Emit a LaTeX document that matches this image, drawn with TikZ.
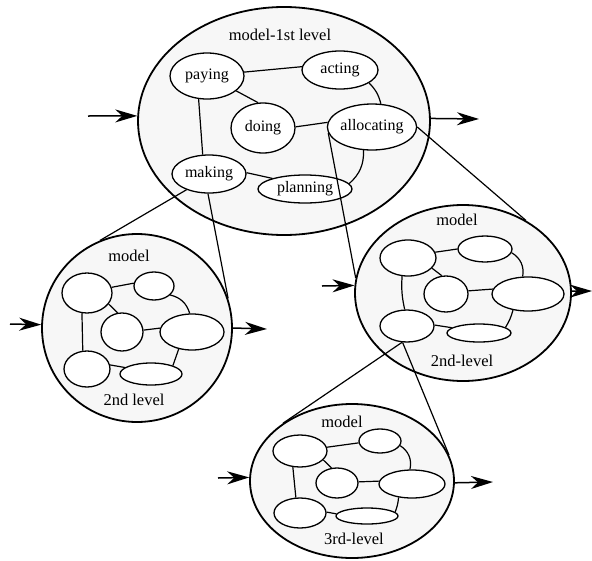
\documentclass[tikz,border=0pt]{standalone}
\usepackage{fontspec}
\setmainfont{Liberation Serif}
\usetikzlibrary{shapes.geometric,arrows.meta}
\begin{document}
\begin{tikzpicture}[x=1pt,y=-1pt,
  level/.style={ellipse, draw, line width=1.8pt, fill=black!3, inner sep=0pt},
  unit/.style={ellipse, draw, line width=1.3pt, fill=white, inner sep=0pt,
               font=\fontsize{16}{18}\selectfont},
  link/.style={line width=1.2pt},
  zoomline/.style={line width=1.2pt},
  flow/.style={line width=1.5pt, -{Stealth[length=22pt,width=13pt,inset=7pt]}},
  lbl/.style={font=\fontsize{16.5}{18}\selectfont, inner sep=0pt}]
\useasboundingbox (0,0) rectangle (592,560);

% ---------- the four model levels ----------
\node[level, minimum width=292pt, minimum height=228pt] (T) at (284,121) {};
\node[level, minimum width=190pt, minimum height=188pt] (L) at (137,328) {};
\node[level, minimum width=216pt, minimum height=176pt] (R) at (463,293) {};
\node[level, minimum width=204pt, minimum height=154pt] (B) at (352,481) {};

% ---------- first level ----------
\node[lbl] (tlbl) at (280,35) {model-1st level};
\node[unit, minimum width=74pt, minimum height=46pt] (paying) at (207,76) {paying};
\node[unit, minimum width=76pt, minimum height=38pt] (acting) at (340,70) {acting};
\node[unit, minimum width=64pt, minimum height=50pt] (doing) at (263,128) {doing};
\node[unit, minimum width=82pt, minimum height=46pt] (allocating) at (372,127) {allocating};
\node[unit, minimum width=74pt, minimum height=38pt] (making) at (209,174) {making};
\node[unit, minimum width=94pt, minimum height=28pt] (planning) at (305,189) {planning};

\draw[link] (paying.6) -- (acting.175);
\draw[link] (paying.-27) -- (doing.101);
\draw[link] (paying.250) -- (making.108);
\draw[link] (doing.2) -- (allocating.174);
\draw[link] (acting.-24) to[bend left=15] (allocating.69);
\draw[link] (allocating.-110) to[bend left=25] (planning.7);
\draw[link] (making.2) -- (planning.162);

% ---------- second level, left ----------
\node[lbl] (llbl) at (129,256) {model};
\node[lbl] (llbl2) at (134,400) {2nd level};
\node[unit, minimum width=50pt, minimum height=40pt] (la) at (87,293) {};
\node[unit, minimum width=40pt, minimum height=28pt] (lb) at (154,286) {};
\node[unit, minimum width=42pt, minimum height=38pt] (lc) at (122,332) {};
\node[unit, minimum width=64pt, minimum height=36pt] (ld) at (192,332) {};
\node[unit, minimum width=46pt, minimum height=36pt] (le) at (87,369) {};
\node[unit, minimum width=62pt, minimum height=22pt] (lf) at (151,374) {};

\draw[link] (la.13) -- (lb.172);
\draw[link] (la.-27) -- (lc.103);
\draw[link] (la.256) -- (le.103);
\draw[link] (lc.5) -- (ld.173);
\draw[link] (lb.-29) to[bend left=30] (ld.97);
\draw[link] (ld.232) -- (lf.21);
\draw[link] (le.10) -- (lf.166);

% ---------- second level, right ----------
\node[lbl] (rlbl) at (457,220) {model};
\node[lbl] (rlbl2) at (462,361) {2nd-level};
\node[unit, minimum width=56pt, minimum height=36pt] (ra) at (408,258) {};
\node[unit, minimum width=54pt, minimum height=26pt] (rb) at (485,249) {};
\node[unit, minimum width=44pt, minimum height=36pt] (rc) at (446,294) {};
\node[unit, minimum width=72pt, minimum height=34pt] (rd) at (528,294) {};
\node[unit, minimum width=54pt, minimum height=32pt] (re) at (407,326) {};
\node[unit, minimum width=64pt, minimum height=18pt] (rf) at (479,333) {};

\draw[link] (ra.12) -- (rb.180);
\draw[link] (ra.-23) -- (rc.103);
\draw[link] (ra.252) to[bend right=8] (re.98);
\draw[link] (rc.8) -- (rd.172);
\draw[link] (rb.-8) to[bend left=35] (rd.107);
\draw[link] (rd.227) to[bend left=8] (rf.12);
\draw[link] (re.2) -- (rf.169);

% ---------- third level ----------
\node[lbl] (blbl) at (342,422) {model};
\node[lbl] (blbl2) at (354,539) {3rd-level};
\node[unit, minimum width=54pt, minimum height=32pt] (ba) at (300,451) {};
\node[unit, minimum width=42pt, minimum height=24pt] (bb) at (380,441) {};
\node[unit, minimum width=42pt, minimum height=30pt] (bc) at (337,483) {};
\node[unit, minimum width=66pt, minimum height=28pt] (bd) at (412,484) {};
\node[unit, minimum width=52pt, minimum height=30pt] (be) at (300,513) {};
\node[unit, minimum width=62pt, minimum height=16pt] (bf) at (367,516) {};

\draw[link] (ba.8) -- (bb.185);
\draw[link] (ba.-21) -- (bc.110);
\draw[link] (ba.246) -- (be.105);
\draw[link] (bc.3) -- (bd.175);
\draw[link] (bb.-13) to[bend left=35] (bd.98);
\draw[link] (bd.225) to[bend left=8] (bf.8);
\draw[link] (be.2) -- (bf.176);

% ---------- refinement lines between levels ----------
\draw[zoomline] (making.215) -- (L.113);
\draw[zoomline] (making.267) -- (L.18);
\draw[zoomline] (allocating.188) -- (R.172);
\draw[zoomline] (allocating.0) -- (R.49);
\draw[zoomline] (re.253) -- (B.140);
\draw[zoomline] (re.255) -- (B.15);

% ---------- inputs and outputs ----------
\coordinate (tin) at (88,116);
\coordinate (tout) at (479,119);
\coordinate (lin) at (10,324);
\coordinate (lout) at (267,329);
\coordinate (rin) at (322,286);
\coordinate (rout) at (592,291);
\coordinate (bin) at (218,478);
\coordinate (bout) at (493,482);

\draw[flow] (tin) -- (T.178);
\draw[flow] (T.1) -- (tout);
\draw[flow] (lin) -- (L.178);
\draw[flow] (L.0) -- (lout);
\draw[flow] (rin) -- (R.176);
\draw[flow] (R.1) -- (rout);
\draw[flow] (bin) -- (B.178);
\draw[flow] (B.-1) -- (bout);
\end{tikzpicture}
\end{document}
